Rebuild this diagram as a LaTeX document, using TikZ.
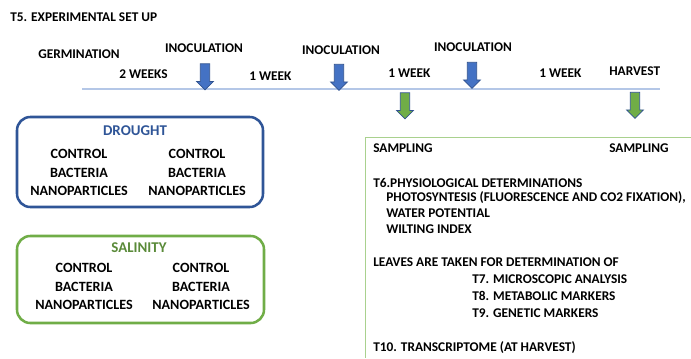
\documentclass[tikz,border=0pt]{standalone}
\usepackage{fontspec}
\setmainfont{Carlito}
\usepackage{xcolor}
\usetikzlibrary{shapes.arrows,positioning}
\definecolor{azul}{HTML}{4472C4}
\definecolor{azulosc}{HTML}{2F5597}
\definecolor{borde}{HTML}{2F528F}
\definecolor{verde}{HTML}{70AD47}
\definecolor{verdecl}{HTML}{A9D18E}
\definecolor{linea}{HTML}{B4C7E7}
\tikzset{
  txt/.style={font=\bfseries\fontsize{10}{12}\selectfont,inner sep=0pt,text height=6.4pt,text depth=0pt},
  izq/.style={txt,anchor=west},
  trat/.style={txt,font=\bfseries\fontsize{10.6}{12}\selectfont},
  cab/.style={txt,font=\bfseries\fontsize{11.2}{12}\selectfont},
  flecha/.style={single arrow,shape border rotate=270,draw=borde,line width=0.6pt,
    minimum height=19.5pt,inner sep=3.2pt,single arrow head extend=2.8pt},
  inoc/.style={flecha,fill=azul},
  muestra/.style={flecha,fill=verde},
  grupo/.style={rounded corners=10pt,line width=1.9pt}
}
\begin{document}
\begin{tikzpicture}[x=0.75pt,y=-0.75pt]
\useasboundingbox (0,0) rectangle (691,358);
\node[izq] (titulo) at (10,17) {T5. EXPERIMENTAL SET UP};
% linea de tiempo
\draw[linea,line width=1.5pt] (82,89)--(660,89);
\node[izq] (germ) at (38,54) {GERMINATION};
\node[izq] (sem2) at (119,74) {2 WEEKS};
\node[izq] (sem1a) at (249,76) {1 WEEK};
\node[izq] (sem1b) at (388,73) {1 WEEK};
\node[izq] (sem1c) at (539,73) {1 WEEK};
\node[izq] (cosecha) at (609,71) {HARVEST};
\node[txt] (inoc1) at (204,48) {INOCULATION};
\node[txt] (inoc2) at (341,50) {INOCULATION};
\node[txt] (inoc3) at (473,47) {INOCULATION};
\node[inoc] (fa1) at (205,74.5) {};
\node[inoc] (fa2) at (339,75) {};
\node[inoc] (fa3) at (472,73) {};
\node[muestra] (fv1) at (405,103.5) {};
\node[muestra] (fv2) at (635,103) {};
% sequia
\draw[grupo,draw=azulosc] (17,117) rectangle (263,207);
\node[cab,azulosc] (sequia) at (135,131) {DROUGHT};
\node[trat] (s1) at (79,154) {CONTROL};
\node[trat] (s2) at (79,173) {BACTERIA};
\node[trat] (s3) at (79,191) {NANOPARTICLES};
\node[trat] (s4) at (197,154) {CONTROL};
\node[trat] (s5) at (197,173) {BACTERIA};
\node[trat] (s6) at (197,191) {NANOPARTICLES};
% salinidad
\draw[grupo,draw=verde] (17,236) rectangle (264,323);
\node[cab,verde!80!black] (salinidad) at (139,248) {SALINITY};
\node[trat] (c1) at (84,268) {CONTROL};
\node[trat] (c2) at (84,287) {BACTERIA};
\node[trat] (c3) at (84,305) {NANOPARTICLES};
\node[trat] (c4) at (201,268) {CONTROL};
\node[trat] (c5) at (201,287) {BACTERIA};
\node[trat] (c6) at (201,305) {NANOPARTICLES};
% determinaciones
\draw[verdecl,line width=0.75pt] (691,137) -| (365,358);
\node[izq] (m1) at (373,148) {SAMPLING};
\node[izq] (m2) at (609,148) {SAMPLING};
\node[izq] (t6) at (373,183) {T6.PHYSIOLOGICAL DETERMINATIONS};
\node[izq] (d1) at (386,197) {PHOTOSYNTESIS (FLUORESCENCE AND CO2 FIXATION),};
\node[izq] (d2) at (386,213) {WATER POTENTIAL};
\node[izq] (d3) at (386,229) {WILTING INDEX};
\node[izq] (hojas) at (373,262) {LEAVES ARE TAKEN FOR DETERMINATION OF};
\node[izq] (t7) at (472,279) {T7. MICROSCOPIC ANALYSIS};
\node[izq] (t8) at (472,296) {T8. METABOLIC MARKERS};
\node[izq] (t9) at (472,313) {T9. GENETIC MARKERS};
\node[izq] (t10) at (373,347) {T10. TRANSCRIPTOME (AT HARVEST)};
\end{tikzpicture}
\end{document}
